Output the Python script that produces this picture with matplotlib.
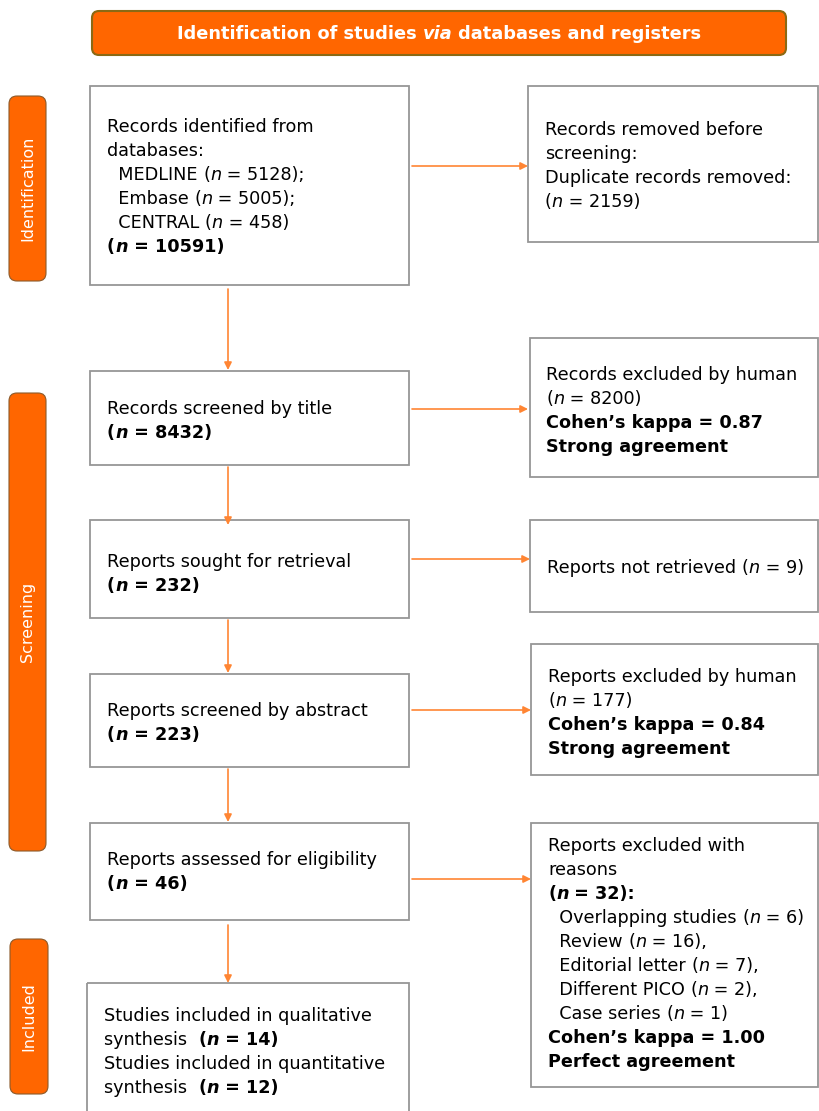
import matplotlib
matplotlib.use("Agg")
import matplotlib.pyplot as plt
from matplotlib.patches import FancyBboxPatch, Rectangle

# ---- data ----
header_title = [("Identification of studies ", "bold", "normal"), ("via", "bold", "italic"),
                (" databases and registers", "bold", "normal")]
stage_labels = ["Identification", "Screening", "Included"]
n_medline, n_embase, n_central, n_total = 5128, 5005, 458, 10591
n_duplicates = 2159
n_title, n_title_excl, kappa_title = 8432, 8200, "0.87"
n_sought, n_not_retrieved = 232, 9
n_abstract, n_abstract_excl, kappa_abstract = 223, 177, "0.84"
n_eligible, n_excl_reasons = 46, 32
excl_reasons = ["Overlapping studies", "Review", "Editorial letter", "Different PICO", "Case series"]
excl_counts = [6, 16, 7, 2, 1]
excl_suffix = ["", ",", ",", ",", ""]
kappa_full = "1.00"
n_qual, n_quant = 14, 12

ORANGE = "#FF6600"
ARROW = "#FF8533"
GREY = "#969696"
FS = 12.7
W, H = 819, 1111

fig = plt.figure(figsize=(W / 100, H / 100), dpi=100)
ax = fig.add_axes([0, 0, 1, 1])
ax.set_xlim(0, W)
ax.set_ylim(H, 0)
ax.axis("off")
renderer = fig.canvas.get_renderer()


def R(t):
    return (t, "normal", "normal")


def B(t):
    return (t, "bold", "normal")


def I(t):
    return (t, "normal", "italic")


def BI(t):
    return (t, "bold", "italic")


def rich(x, y, segs, size=FS, color="black"):
    cx = x
    for txt, wt, st in segs:
        t = ax.text(cx, y, txt, fontsize=size, fontweight=wt, fontstyle=st,
                    color=color, va="baseline", ha="left", family="DejaVu Sans")
        bb = t.get_window_extent(renderer=renderer)
        cx += bb.width


def n_seg(val, bold=False, pre="(", post=")"):
    if bold:
        return [B(pre), BI("n"), B(f" = {val}{post}")]
    return [R(pre), I("n"), R(f" = {val}{post}")]


def box(x0, y0, x1, y1, lines, tx, ty0, step=24):
    ax.add_patch(Rectangle((x0, y0), x1 - x0, y1 - y0, fill=False, ec=GREY, lw=1.3))
    for i, segs in enumerate(lines):
        rich(tx, ty0 + i * step, segs)


def arrow(x0, y0, x1, y1):
    ax.annotate("", xy=(x1, y1), xytext=(x0, y0),
                arrowprops=dict(arrowstyle="-|>", color=ARROW, lw=1.2,
                                mutation_scale=11, shrinkA=0, shrinkB=0))


# header
ax.add_patch(FancyBboxPatch((92, 11), 694, 44, boxstyle="round,pad=0,rounding_size=7",
                            fc=ORANGE, ec="#8B6914", lw=1.5))
hw = 0
for txt, wt, st in header_title:
    t = ax.text(0, 0, txt, fontsize=12.8, fontweight=wt, fontstyle=st)
    hw += t.get_window_extent(renderer=renderer).width
    t.remove()
rich(439 - hw / 2, 39, header_title, size=12.8, color="white")

# stage labels
stage_boxes = [(9, 96, 46, 281), (9, 393, 46, 851), (10, 939, 48, 1094)]
for lab, (x0, y0, x1, y1) in zip(stage_labels, stage_boxes):
    ax.add_patch(FancyBboxPatch((x0, y0), x1 - x0, y1 - y0, boxstyle="round,pad=0,rounding_size=8",
                                fc=ORANGE, ec="#8B5A2B", lw=0.8))
    ax.text((x0 + x1) / 2, (y0 + y1) / 2, lab, rotation=90, ha="center", va="center",
            color="white", fontsize=11.5)

# left column
box(90, 86, 409, 285, [
    [R("Records identified from")],
    [R("databases:")],
    [R("  MEDLINE ")] + n_seg(n_medline, post=");"),
    [R("  Embase ")] + n_seg(n_embase, post=");"),
    [R("  CENTRAL ")] + n_seg(n_central),
    n_seg(n_total, bold=True),
], 107, 132)

box(90, 371, 409, 465, [
    [R("Records screened by title")],
    n_seg(n_title, bold=True),
], 107, 414)

box(90, 520, 409, 618, [
    [R("Reports sought for retrieval")],
    n_seg(n_sought, bold=True),
], 107, 567)

box(90, 674, 409, 767, [
    [R("Reports screened by abstract")],
    n_seg(n_abstract, bold=True),
], 107, 716)

box(90, 823, 409, 920, [
    [R("Reports assessed for eligibility")],
    n_seg(n_eligible, bold=True),
], 107, 865)

box(87, 983, 409, 1115, [
    [R("Studies included in qualitative")],
    [R("synthesis  ")] + n_seg(n_qual, bold=True),
    [R("Studies included in quantitative")],
    [R("synthesis  ")] + n_seg(n_quant, bold=True),
], 104, 1021)

# right column
box(528, 86, 818, 242, [
    [R("Records removed before")],
    [R("screening:")],
    [R("Duplicate records removed:")],
    n_seg(n_duplicates),
], 545, 135)

box(530, 338, 818, 477, [
    [R("Records excluded by human")],
    n_seg(n_title_excl),
    [B(f"Cohen\u2019s kappa = {kappa_title}")],
    [B("Strong agreement")],
], 546, 380)

box(530, 520, 818, 612, [
    [R("Reports not retrieved ")] + n_seg(n_not_retrieved),
], 547, 573)

box(531, 644, 818, 775, [
    [R("Reports excluded by human")],
    n_seg(n_abstract_excl),
    [B(f"Cohen\u2019s kappa = {kappa_abstract}")],
    [B("Strong agreement")],
], 548, 682)

reason_lines = [[R("  " + r + " ")] + n_seg(c, post=")" + s)
                for r, c, s in zip(excl_reasons, excl_counts, excl_suffix)]
box(531, 823, 818, 1087, [
    [R("Reports excluded with")],
    [R("reasons")],
    n_seg(n_excl_reasons, bold=True, post="):"),
] + reason_lines + [
    [B(f"Cohen\u2019s kappa = {kappa_full}")],
    [B("Perfect agreement")],
], 548, 851)

# arrows
arrow(412, 166, 528, 166)
arrow(412, 409, 528, 409)
arrow(412, 559, 530, 559)
arrow(412, 710, 531, 710)
arrow(412, 879, 531, 879)
arrow(228, 289, 228, 370)
arrow(228, 467, 228, 525)
arrow(228, 620, 228, 673)
arrow(228, 769, 228, 822)
arrow(228, 925, 228, 983)

fig.savefig("out.png", dpi=100)
